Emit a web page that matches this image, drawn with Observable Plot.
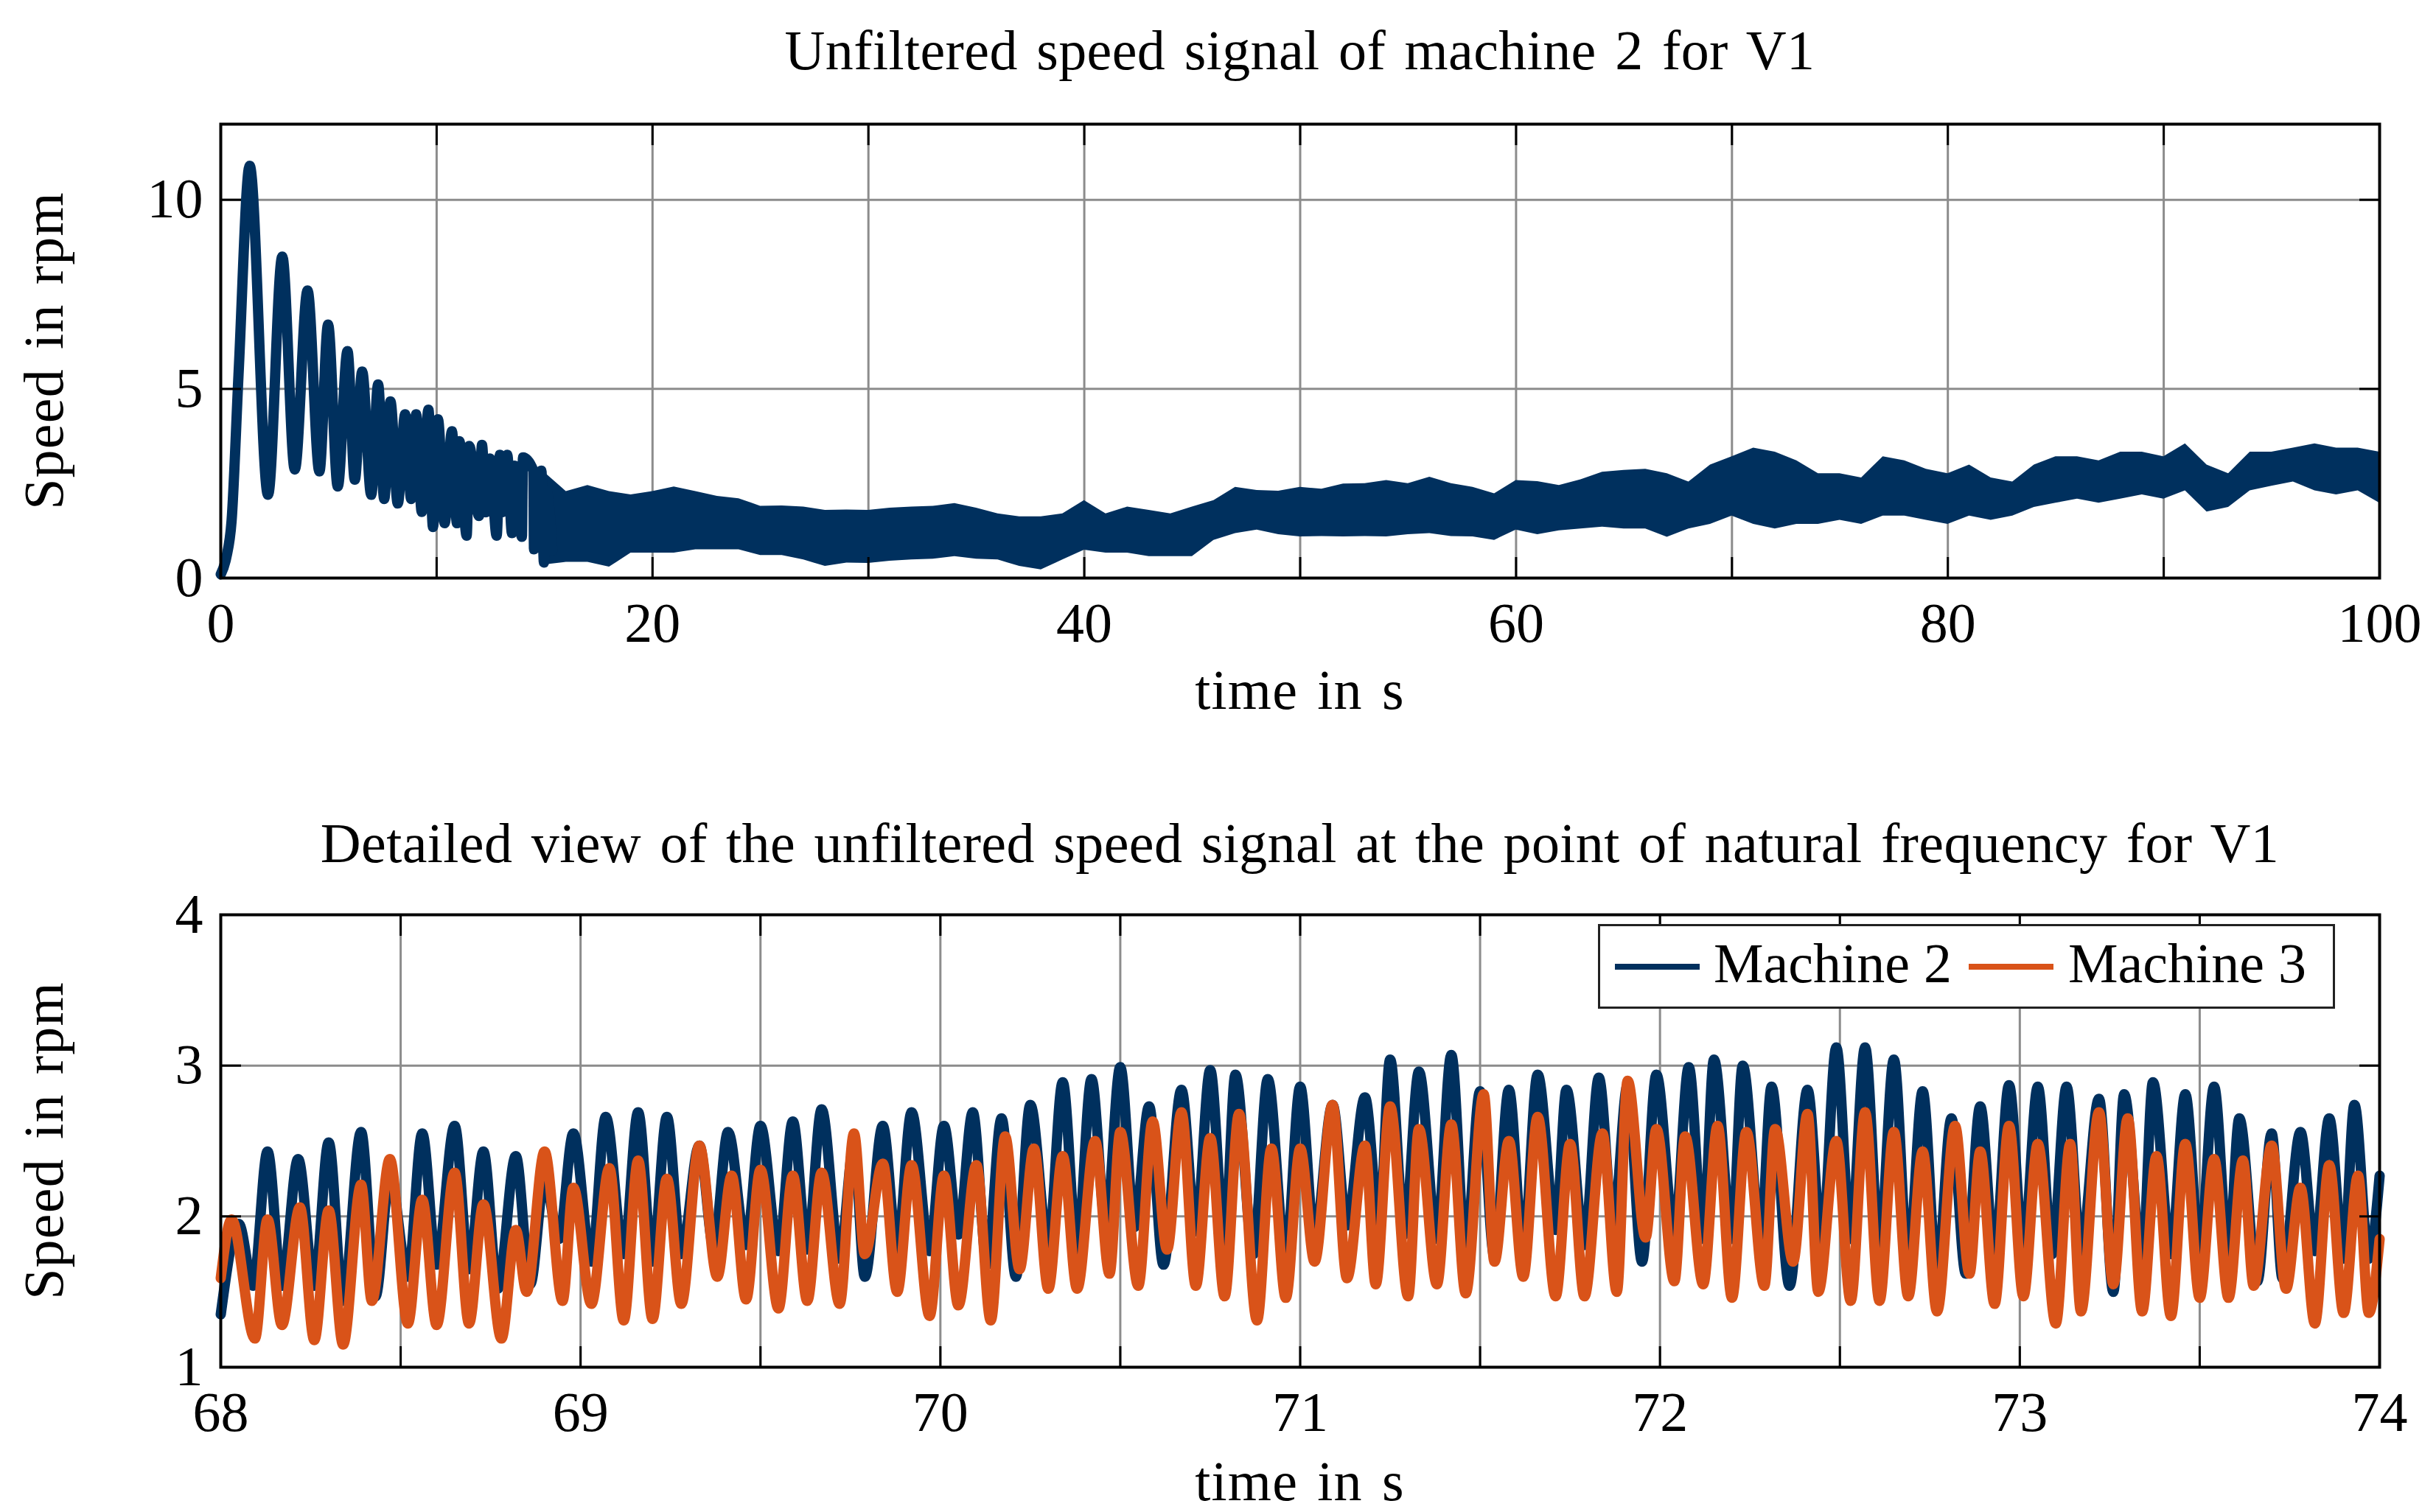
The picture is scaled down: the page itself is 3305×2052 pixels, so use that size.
<!DOCTYPE html>
<html>
<head>
<meta charset="utf-8">
<script src="https://cdn.jsdelivr.net/npm/d3@7"></script>
<script src="https://cdn.jsdelivr.net/npm/@observablehq/plot@0.6"></script>
<style>
  body { margin: 0; background: white; }
  #page { position: relative; width: 3305px; height: 2052px; font-family: "Liberation Serif", serif; font-size: 76px; color: black; overflow: hidden; word-spacing: 6px; }
  .chart { position: absolute; left: 0; }
  .txt { position: absolute; line-height: 60px; height: 60px; white-space: nowrap; text-align: center; }
  .ttl { letter-spacing: 0.4px; }
  .lab { letter-spacing: 1.2px; }
  .ylab { width: 700px; transform: rotate(-90deg); }
  #legend { position: absolute; left: 2168px; top: 1254px; width: 1000px; height: 115px; box-sizing: border-box; border: 3px solid #222; background: white; word-spacing: 0; }
  #legend .sw { position: absolute; width: 115px; height: 8px; top: 51px; }
  #legend .lt { position: absolute; top: 12px; line-height: 76px; white-space: nowrap; }
</style>
</head>
<body>
<div id="page">
  <div id="top" class="chart" style="top:0px"></div>
  <div id="bottom" class="chart" style="top:1073px"></div>

  <div class="txt ttl" style="left:299px;width:2929px;top:38px">Unfiltered speed signal of machine 2 for V1</div>
  <div class="txt lab" style="left:299px;width:2929px;top:906px">time in s</div>
  <div class="txt lab ylab" style="left:-291px;top:446px">Speed in rpm</div>

  <div class="txt ttl" style="left:299px;width:2929px;top:1114px">Detailed view of the unfiltered speed signal at the point of natural frequency for V1</div>
  <div class="txt lab" style="left:299px;width:2929px;top:1980px">time in s</div>
  <div class="txt lab ylab" style="left:-291px;top:1518px">Speed in rpm</div>

  <div id="legend">
    <div class="sw" style="left:20px;background:#00305e"></div>
    <div class="lt" style="left:154px">Machine 2</div>
    <div class="sw" style="left:500px;background:#d95319"></div>
    <div class="lt" style="left:635px">Machine 3</div>
  </div>
</div>
<script>
const blue = "#00305e"
const orange = "#d95319"
const gridGray = "#8c8c8c"

// top chart: damped oscillation (peaks / troughs), 0 .. 15 s
const oscT = [0, 0.26, 0.5, 0.83, 1.34, 2.19, 2.85, 3.43, 4.02, 4.57, 4.97, 5.42, 5.87, 6.21, 6.55, 6.97, 7.29, 7.57, 7.86, 8.2,
  8.54, 8.82, 9.05, 9.31, 9.62, 9.83, 10.06, 10.37, 10.71, 10.94, 11.05, 11.39, 11.51, 11.96, 12.10, 12.28, 12.47, 12.78, 12.93, 13.04,
  13.27, 13.49, 13.61, 13.95, 14.00, 14.48, 14.51, 14.85, 14.97, 15.08, 15.36]
const oscV = [0.1, 0.55, 1.5, 5.46, 10.9, 2.2, 8.5, 2.87, 7.6, 2.82, 6.7, 2.42, 6.0, 2.6, 5.46, 2.2, 5.12, 2.09, 4.67, 1.97,
  4.33, 2.09, 4.33, 1.75, 4.45, 1.35, 4.2, 1.45, 3.88, 1.45, 3.62, 1.12, 3.49, 1.64, 3.52, 1.74, 3.16, 1.12, 3.26, 1.74,
  3.26, 1.19, 2.97, 1.09, 3.19, 2.84, 0.76, 2.84, 0.41, 2.32, 0.73]

// top chart: noisy band (upper / lower edge) from 15 s to 100 s
const bandT = [15, 16, 17, 18, 19, 20, 21, 22, 23, 24, 25, 26, 27, 28, 29, 30, 31, 32, 33, 34, 35, 36, 37, 38, 39, 40, 41, 42, 43, 44,
  45, 46, 47, 48, 49, 50, 51, 52, 53, 54, 55, 56, 57, 58, 59, 60, 61, 62, 63, 64, 65, 66, 67, 68, 69, 70, 71, 72, 73, 74,
  75, 76, 77, 78, 79, 80, 81, 82, 83, 84, 85, 86, 87, 88, 89, 90, 91, 92, 93, 94, 95, 96, 97, 98, 99, 100]
const bandHi = [2.79, 2.29, 2.45, 2.29, 2.2, 2.29, 2.41, 2.29, 2.16, 2.1, 1.9, 1.91, 1.88, 1.79, 1.8, 1.79, 1.85, 1.88, 1.9, 1.97,
  1.85, 1.7, 1.62, 1.62, 1.7, 2.05, 1.7, 1.88, 1.79, 1.7, 1.88, 2.05, 2.4, 2.32, 2.3, 2.4, 2.35, 2.49, 2.5, 2.58,
  2.5, 2.67, 2.5, 2.4, 2.23, 2.58, 2.55, 2.45, 2.6, 2.8, 2.85, 2.88, 2.76, 2.54, 2.99, 3.21, 3.44, 3.33, 3.1, 2.76,
  2.76, 2.65, 3.21, 3.1, 2.88, 2.76, 2.99, 2.65, 2.54, 2.99, 3.21, 3.21, 3.1, 3.33, 3.33, 3.21, 3.55, 2.99, 2.76, 3.33,
  3.33, 3.44, 3.55, 3.44, 3.44, 3.33]
const bandLo = [0.35, 0.42, 0.42, 0.29, 0.66, 0.66, 0.66, 0.75, 0.75, 0.75, 0.6, 0.6, 0.48, 0.31, 0.4, 0.39, 0.45, 0.48, 0.5, 0.57,
  0.5, 0.48, 0.31, 0.22, 0.48, 0.74, 0.66, 0.66, 0.57, 0.57, 0.57, 1.0, 1.18, 1.27, 1.15, 1.09, 1.1, 1.09, 1.1, 1.09,
  1.15, 1.18, 1.1, 1.09, 1.0, 1.27, 1.15, 1.25, 1.3, 1.35, 1.3, 1.3, 1.08, 1.3, 1.42, 1.64, 1.42, 1.3, 1.42, 1.42,
  1.53, 1.42, 1.64, 1.64, 1.53, 1.42, 1.64, 1.53, 1.64, 1.87, 1.98, 2.09, 1.98, 2.09, 2.2, 2.09, 2.31, 1.75, 1.87, 2.31,
  2.43, 2.54, 2.31, 2.2, 2.31, 1.98]

// bottom chart: machine 2 (peaks / troughs)
const m2T = [68.00, 68.05, 68.09, 68.13, 68.17, 68.215, 68.26, 68.30, 68.34, 68.39, 68.43, 68.47, 68.52, 68.56, 68.60, 68.65, 68.69, 68.73, 68.77, 68.82,
  68.86, 68.90, 68.94, 68.98, 69.03, 69.07, 69.12, 69.16, 69.20, 69.24, 69.28, 69.33, 69.37, 69.41, 69.46, 69.50, 69.55, 69.59, 69.63, 69.67,
  69.72, 69.76, 69.79, 69.84, 69.88, 69.92, 69.97, 70.01, 70.05, 70.09, 70.13, 70.17, 70.21, 70.25, 70.30, 70.34, 70.38, 70.42, 70.46, 70.50,
  70.54, 70.58, 70.62, 70.67, 70.71, 70.75, 70.79, 70.82, 70.87, 70.91, 70.96, 71.00, 71.04, 71.09, 71.13, 71.18, 71.22, 71.25, 71.29, 71.33,
  71.38, 71.42, 71.46, 71.50, 71.54, 71.58, 71.62, 71.66, 71.71, 71.74, 71.79, 71.83, 71.87, 71.91, 71.95, 71.99, 72.04, 72.08, 72.12, 72.15,
  72.20, 72.23, 72.28, 72.31, 72.36, 72.41, 72.45, 72.49, 72.53, 72.57, 72.61, 72.65, 72.69, 72.73, 72.77, 72.81, 72.85, 72.89, 72.93, 72.97,
  73.01, 73.05, 73.09, 73.13, 73.17, 73.22, 73.26, 73.29, 73.34, 73.37, 73.42, 73.46, 73.50, 73.54, 73.58, 73.61, 73.66, 73.70, 73.73, 73.78,
  73.82, 73.86, 73.90, 73.93, 73.97, 74.00]
const m2V = [1.35, 1.95, 1.54, 2.43, 1.54, 2.38, 1.54, 2.49, 1.44, 2.56, 1.47, 2.27, 1.60, 2.55, 1.68, 2.60, 1.65, 2.43, 1.52, 2.40,
  1.55, 2.25, 1.85, 2.55, 1.70, 2.66, 1.75, 2.69, 1.70, 2.66, 1.75, 2.47, 1.80, 2.56, 1.81, 2.60, 1.77, 2.63, 1.78, 2.71,
  1.72, 2.47, 1.60, 2.60, 1.78, 2.69, 1.77, 2.60, 1.88, 2.69, 1.68, 2.65, 1.60, 2.74, 1.80, 2.89, 1.78, 2.91, 1.94, 2.99,
  1.93, 2.73, 1.68, 2.84, 1.90, 2.97, 1.83, 2.94, 1.75, 2.91, 1.72, 2.86, 1.85, 2.74, 1.94, 2.79, 1.94, 3.04, 1.88, 2.96,
  1.85, 3.07, 1.75, 2.83, 1.73, 2.84, 1.77, 2.94, 1.91, 2.84, 1.81, 2.92, 1.94, 2.87, 1.70, 2.94, 1.88, 2.99, 1.85, 3.04,
  1.85, 3.00, 1.86, 2.86, 1.54, 2.84, 1.81, 3.12, 1.85, 3.12, 1.78, 3.04, 1.68, 2.83, 1.60, 2.65, 1.62, 2.73, 1.72, 2.87,
  1.77, 2.86, 1.75, 2.86, 1.77, 2.78, 1.50, 2.81, 1.68, 2.89, 1.75, 2.81, 1.75, 2.86, 1.72, 2.65, 1.57, 2.55, 1.59, 2.56,
  1.77, 2.65, 1.72, 2.74, 1.72, 2.27]

// bottom chart: machine 3 (peaks / troughs)
const m3T = [68.00, 68.03, 68.095, 68.13, 68.17, 68.22, 68.26, 68.30, 68.34, 68.39, 68.42, 68.47, 68.52, 68.56, 68.60, 68.65, 68.69, 68.73, 68.78, 68.82,
  68.85, 68.90, 68.95, 68.98, 69.03, 69.08, 69.12, 69.16, 69.20, 69.24, 69.28, 69.33, 69.38, 69.42, 69.46, 69.50, 69.55, 69.59, 69.63, 69.67,
  69.72, 69.76, 69.79, 69.84, 69.88, 69.92, 69.97, 70.01, 70.05, 70.10, 70.14, 70.18, 70.22, 70.26, 70.30, 70.34, 70.38, 70.43, 70.47, 70.50,
  70.55, 70.59, 70.63, 70.67, 70.71, 70.75, 70.79, 70.83, 70.88, 70.92, 70.96, 71.00, 71.04, 71.09, 71.13, 71.18, 71.21, 71.25, 71.30, 71.33,
  71.38, 71.42, 71.46, 71.51, 71.54, 71.58, 71.62, 71.66, 71.71, 71.75, 71.79, 71.84, 71.88, 71.91, 71.96, 71.99, 72.04, 72.07, 72.12, 72.16,
  72.20, 72.24, 72.29, 72.32, 72.37, 72.41, 72.44, 72.49, 72.53, 72.57, 72.61, 72.65, 72.69, 72.73, 72.77, 72.82, 72.86, 72.89, 72.93, 72.97,
  73.01, 73.05, 73.10, 73.14, 73.17, 73.22, 73.26, 73.30, 73.34, 73.38, 73.42, 73.46, 73.50, 73.54, 73.58, 73.62, 73.65, 73.70, 73.74, 73.78,
  73.82, 73.86, 73.90, 73.94, 73.97, 74.00]
const m3V = [1.59, 1.98, 1.19, 1.98, 1.28, 2.06, 1.18, 2.04, 1.15, 2.21, 1.44, 2.38, 1.29, 2.11, 1.28, 2.29, 1.29, 2.08, 1.19, 1.91,
  1.50, 2.43, 1.44, 2.19, 1.42, 2.32, 1.31, 2.37, 1.32, 2.25, 1.42, 2.47, 1.60, 2.27, 1.45, 2.31, 1.39, 2.27, 1.44, 2.29,
  1.42, 2.55, 1.75, 2.35, 1.50, 2.34, 1.34, 2.27, 1.41, 2.34, 1.31, 2.53, 1.65, 2.45, 1.52, 2.40, 1.52, 2.50, 1.62, 2.56,
  1.54, 2.63, 1.78, 2.69, 1.54, 2.52, 1.47, 2.68, 1.31, 2.45, 1.46, 2.45, 1.70, 2.74, 1.59, 2.47, 1.55, 2.73, 1.47, 2.58,
  1.55, 2.61, 1.49, 2.81, 1.70, 2.50, 1.60, 2.66, 1.47, 2.48, 1.47, 2.55, 1.50, 2.90, 1.86, 2.58, 1.57, 2.53, 1.55, 2.60,
  1.46, 2.56, 1.54, 2.58, 1.70, 2.68, 1.50, 2.50, 1.44, 2.69, 1.44, 2.56, 1.47, 2.43, 1.37, 2.60, 1.62, 2.43, 1.42, 2.60,
  1.47, 2.48, 1.29, 2.48, 1.37, 2.69, 1.55, 2.65, 1.37, 2.40, 1.34, 2.48, 1.46, 2.38, 1.46, 2.37, 1.54, 2.47, 1.52, 2.19,
  1.29, 2.34, 1.36, 2.27, 1.36, 1.85]

// ticks
const topXLabels = [0, 20, 40, 60, 80, 100]
const topXTicks = [0, 10, 20, 30, 40, 50, 60, 70, 80, 90, 100]
const topYTicks = [0, 5, 10]
const botXLabels = [68, 69, 70, 71, 72, 73, 74]
const botXTicks = [68, 68.5, 69, 69.5, 70, 70.5, 71, 71.5, 72, 72.5, 73, 73.5, 74]
const botYTicks = [1, 2, 3, 4]

const osc = oscT.map((t, i) => ({t, v: oscV[i]}))
const band = bandT.map((t, i) => ({t, hi: bandHi[i], lo: bandLo[i]}))
const m2 = m2T.map((t, i) => ({t, v: m2V[i]}))
const m3 = m3T.map((t, i) => ({t, v: m3V[i]}))

const style = {
  fontFamily: '"Liberation Serif", serif',
  fontSize: "76px",
  background: "transparent",
  color: "black",
  overflow: "visible"
}
const noText = () => ""
const plain = d => `${d}`

function frameMarks(xLabels, xTicks, yTicks) {
  return [
    Plot.axisX(xLabels, {anchor: "bottom", tickSize: 0, tickPadding: 33, tickFormat: plain, label: null}),
    Plot.axisX(xTicks, {anchor: "bottom", tickSize: -28, strokeWidth: 3, tickFormat: noText, label: null}),
    Plot.axisX(xTicks, {anchor: "top", tickSize: -28, strokeWidth: 3, tickFormat: noText, label: null}),
    Plot.axisY(yTicks, {anchor: "left", tickSize: 0, tickPadding: 24, tickFormat: plain, label: null}),
    Plot.axisY(yTicks, {anchor: "left", tickSize: -28, strokeWidth: 3, tickFormat: noText, label: null}),
    Plot.axisY(yTicks, {anchor: "right", tickSize: -28, strokeWidth: 3, tickFormat: noText, label: null}),
    Plot.frame({stroke: "black", strokeWidth: 4})
  ]
}

const topChart = Plot.plot({
  width: 3305,
  height: 1000,
  marginLeft: 299,
  marginRight: 77,
  marginTop: 168,
  marginBottom: 216,
  style,
  x: {domain: [0, 100]},
  y: {domain: [0, 12]},
  marks: [
    Plot.gridX(topXTicks, {stroke: gridGray, strokeOpacity: 1, strokeWidth: 3}),
    Plot.gridY(topYTicks, {stroke: gridGray, strokeOpacity: 1, strokeWidth: 3}),
    Plot.areaY(band, {x: "t", y1: "lo", y2: "hi", fill: blue}),
    Plot.line(osc, {x: "t", y: "v", stroke: blue, strokeWidth: 14, curve: "monotone-x"}),
    ...frameMarks(topXLabels, topXTicks, topYTicks)
  ]
})

const bottomChart = Plot.plot({
  width: 3305,
  height: 979,
  marginLeft: 299,
  marginRight: 77,
  marginTop: 168,
  marginBottom: 197,
  style,
  x: {domain: [68, 74]},
  y: {domain: [1, 4]},
  marks: [
    Plot.gridX(botXTicks, {stroke: gridGray, strokeOpacity: 1, strokeWidth: 3}),
    Plot.gridY(botYTicks, {stroke: gridGray, strokeOpacity: 1, strokeWidth: 3}),
    Plot.line(m2, {x: "t", y: "v", stroke: blue, strokeWidth: 14, curve: "monotone-x"}),
    Plot.line(m3, {x: "t", y: "v", stroke: orange, strokeWidth: 14, curve: "monotone-x"}),
    ...frameMarks(botXLabels, botXTicks, botYTicks)
  ]
})

d3.select("#top").append(() => topChart)
d3.select("#bottom").append(() => bottomChart)
</script>
</body>
</html>
